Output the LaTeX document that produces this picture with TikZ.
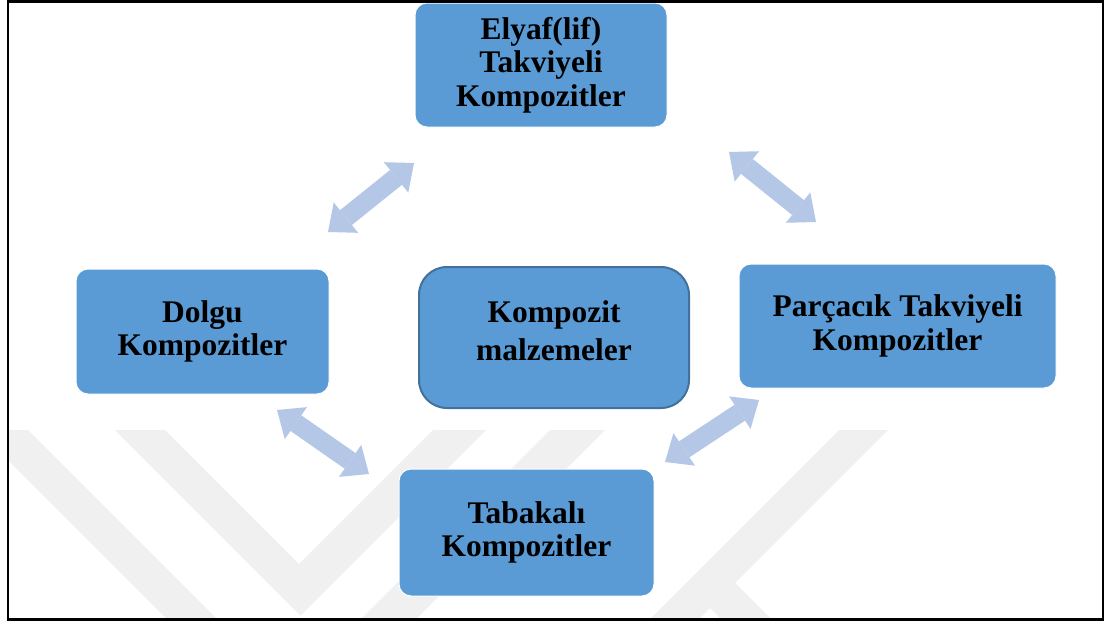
\documentclass[tikz,border=0pt]{standalone}
\usepackage{fontspec}
\setmainfont{Liberation Serif}
\usetikzlibrary{arrows.meta,calc}
\definecolor{boxblue}{HTML}{5B9BD5}
\definecolor{boxedge}{HTML}{41719C}
\definecolor{arrblue}{HTML}{B4C7E7}
\definecolor{wmgray}{HTML}{F0F0F0}
\begin{document}
\begin{tikzpicture}[x=1pt,y=-1pt,
  box/.style={rectangle, rounded corners=12pt, fill=boxblue, draw=white, line width=1pt,
    align=center, inner sep=0pt, font=\bfseries\fontsize{31.5}{33.5}\selectfont},
  mainbox/.style={box, rounded corners=28pt, draw=boxedge, line width=2pt},
  lbl/.style={align=center, inner sep=0pt, font=\bfseries\fontsize{31.5}{38}\selectfont},
  wm/.style={fill=wmgray, draw=none},
  dblarrow/.style={draw=arrblue, line width=19pt,
    {Triangle[length=23pt,width=39pt,line width=0pt,fill=arrblue]}-{Triangle[length=23pt,width=39pt,line width=0pt,fill=arrblue]}}
]
\useasboundingbox (0,0) rectangle (1105,621);
\fill[white] (0,0) rectangle (1105,621);
% watermark
\begin{scope}
\clip (8,1) rectangle (1103,620);
\fill[wm] (-22,430) -- (28,430) -- (219,621) -- (169,621) -- cycle;
\fill[wm] (115,430) -- (165,430) -- (299,564) -- (433,430) -- (486,430) -- (300.5,615.5) -- cycle;
\fill[wm] (550,430) -- (605,430) -- (414,621) -- (359,621) -- cycle;
\fill[wm] (839,430) -- (888,430) -- (697,621) -- (648,621) -- cycle;
\fill[wm] (735,583) -- (773,621) -- (723,621) -- (710,608) -- cycle;
\end{scope}
% boxes
\node[box, minimum width=252pt, minimum height=124pt] (elyaf) at (541,65) {Elyaf(lif)\\Takviyeli\\Kompozitler};
\node[box, minimum width=253pt, minimum height=125pt] (dolgu) at (202.5,331.5) {Dolgu\\Kompozitler};
\node[mainbox, minimum width=270pt, minimum height=141pt] (kompozit) at (554,337.5) {};
\node[lbl] (kompozitT) at (554,331) {Kompozit\\malzemeler};
\node[box, minimum width=317pt, minimum height=124pt] (parcacik) at (897.5,326) {Parçacık Takviyeli\\Kompozitler};
\node[box, minimum width=255pt, minimum height=127pt] (tabakali) at (526.5,532.5) {Tabakalı\\Kompozitler};
% arrows
\coordinate (a1s) at (328,232); \coordinate (a1e) at (414,163);
\coordinate (a2s) at (729,152); \coordinate (a2e) at (816,222);
\coordinate (a3s) at (277,410); \coordinate (a3e) at (369,474);
\coordinate (a4s) at (759,400); \coordinate (a4e) at (665,462);
\draw[dblarrow] (a1s) -- (a1e);
\draw[dblarrow] (a2s) -- (a2e);
\draw[dblarrow] (a3s) -- (a3e);
\draw[dblarrow] (a4s) -- (a4e);
% frame
\draw[black, line width=2.5pt] (8,1.5) rectangle (1103,619.5);
\end{tikzpicture}
\end{document}
